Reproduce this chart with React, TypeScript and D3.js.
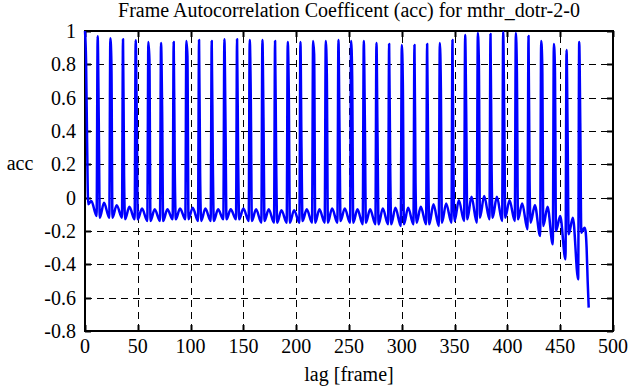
import React, { useEffect, useRef } from 'react';
import * as d3 from 'd3';

// lag positions of the periodic peaks (one every ~12 frames)
const spikeLags = [
  0, 12, 24, 36, 48, 60, 72, 84, 96, 108, 120, 132, 144, 156, 168, 180, 192, 204, 216, 228,
  240, 252, 264, 276, 288, 300, 312, 324, 336, 348, 360, 372, 384, 396, 408, 420, 432, 444, 456, 468,
];

// acc value at each peak
const peakValues = [
  1.0, 0.968, 0.956, 0.95, 0.944, 0.934, 0.928, 0.934, 0.94, 0.946, 0.94, 0.95, 0.95, 0.946, 0.946, 0.94, 0.934, 0.934, 0.94, 0.94,
  0.946, 0.94, 0.94, 0.928, 0.922, 0.916, 0.916, 0.922, 0.928, 0.946, 0.976, 0.988, 0.982, 0.994, 0.988, 0.97, 0.94, 0.922, 0.886, 0.934,
];

// value one lag after each peak (the shoulder of the spike)
const shoulderValues = [
  0.82, 0.48, 0.81, 0.13, 0.49, 0.83, 0.55, 0.17, 0.85, 0.15, 0.24, 0.47, 0.24, 0.6, 0.48, 0.24, 0.62, 0.3, 0.86, 0.74,
  0.41, 0.73, 0.47, 0.37, 0.19, 0.68, 0.09, 0.2, 0.66, 0.1, 0.5, 0.8, 0.2, 0.5, 0.75, 0.1, 0.8, 0.78, 0.4, 0.45,
];

// dip just before each peak
const preDipValues = [
  0, -0.11, -0.12, -0.12, -0.13, -0.14, -0.14, -0.13, -0.13, -0.14, -0.14, -0.13, -0.13, -0.14, -0.15, -0.15, -0.15, -0.15, -0.15, -0.15,
  -0.15, -0.15, -0.16, -0.16, -0.16, -0.17, -0.16, -0.16, -0.17, -0.15, -0.14, -0.15, -0.13, -0.14, -0.14, -0.19, -0.23, -0.28, -0.37, -0.49,
];

// dip two lags after each peak
const postDipValues = [
  -0.04, -0.12, -0.12, -0.13, -0.13, -0.14, -0.14, -0.13, -0.13, -0.14, -0.14, -0.13, -0.13, -0.14, -0.14, -0.15, -0.15, -0.14, -0.15, -0.15,
  -0.14, -0.15, -0.15, -0.16, -0.16, -0.16, -0.15, -0.16, -0.15, -0.14, -0.13, -0.12, -0.12, -0.12, -0.13, -0.15, -0.17, -0.2, -0.22,
];

// top of the baseline arc in the middle of each period
const midTopValues = [
  -0.02, -0.03, -0.045, -0.055, -0.065, -0.07, -0.07, -0.065, -0.06, -0.065, -0.07, -0.07, -0.065, -0.07, -0.07, -0.075, -0.075, -0.07, -0.07, -0.065,
  -0.065, -0.07, -0.07, -0.065, -0.06, -0.06, -0.055, -0.04, -0.035, -0.015, 0.005, 0.01, 0.005, -0.015, -0.035, -0.045, -0.055, -0.11, -0.12,
];

// first lags and the final drop
const headLags = [0, 1, 2, 3];
const headValues = [1.0, 0.82, 0.33, -0.04];
const tailLags = [469, 470, 471, 472, 473, 474, 475, 476, 477];
const tailValues = [0.45, -0.21, -0.2, -0.19, -0.18, -0.2, -0.3, -0.5, -0.66];

const xTicks = [0, 50, 100, 150, 200, 250, 300, 350, 400, 450, 500];
const yTicks = [-0.8, -0.6, -0.4, -0.2, 0, 0.2, 0.4, 0.6, 0.8, 1];

const WIDTH = 641;
const HEIGHT = 387;
const FONT = '"Liberation Serif", "Times New Roman", serif';

const App: React.FC = () => {
  const svgRef = useRef<SVGSVGElement>(null);

  useEffect(() => {
    if (!svgRef.current) return;
    const svg = d3.select(svgRef.current);
    svg.selectAll('*').remove();

    const left = 85;
    const right = 613;
    const top = 31;
    const bottom = 331;

    const x = d3.scaleLinear().domain([0, 500]).range([left, right]);
    const y = d3.scaleLinear().domain([-0.8, 1]).range([bottom, top]);

    // build the series
    const points: [number, number][] = [];
    headLags.forEach((l, i) => points.push([l, headValues[i]]));
    spikeLags.forEach((p, k) => {
      if (k > 0) {
        points.push([p - 1, preDipValues[k]]);
        points.push([p, peakValues[k]]);
        if (k < spikeLags.length - 1) {
          points.push([p + 1, shoulderValues[k]]);
          points.push([p + 2, postDipValues[k]]);
        }
      }
      if (k < midTopValues.length) points.push([p + 6, midTopValues[k]]);
    });
    tailLags.forEach((l, i) => points.push([l, tailValues[i]]));

    svg.append('rect').attr('width', WIDTH).attr('height', HEIGHT).attr('fill', '#ffffff');

    // grid
    const grid = svg.append('g').attr('stroke', '#000').attr('stroke-width', 1).attr('stroke-dasharray', '7,5');
    grid.selectAll('.vg')
      .data(xTicks.slice(1, -1))
      .enter()
      .append('line')
      .attr('x1', d => Math.round(x(d)) + 0.5)
      .attr('x2', d => Math.round(x(d)) + 0.5)
      .attr('y1', bottom)
      .attr('y2', top);
    grid.selectAll('.hg')
      .data(yTicks.slice(1, -1))
      .enter()
      .append('line')
      .attr('x1', left)
      .attr('x2', right)
      .attr('y1', d => Math.round(y(d)) + 0.5)
      .attr('y2', d => Math.round(y(d)) + 0.5);

    // border
    svg.append('rect')
      .attr('x', left)
      .attr('y', top)
      .attr('width', right - left)
      .attr('height', bottom - top)
      .attr('fill', 'none')
      .attr('stroke', '#000')
      .attr('stroke-width', 2);

    // inward ticks on all four sides
    const tickLen = 6;
    const ticks = svg.append('g').attr('stroke', '#000').attr('stroke-width', 2);
    xTicks.forEach(t => {
      const px = Math.round(x(t)) + 0.5;
      ticks.append('line').attr('x1', px).attr('x2', px).attr('y1', bottom).attr('y2', bottom - tickLen);
      ticks.append('line').attr('x1', px).attr('x2', px).attr('y1', top).attr('y2', top + tickLen);
    });
    yTicks.forEach(t => {
      const py = Math.round(y(t)) + 0.5;
      ticks.append('line').attr('x1', left).attr('x2', left + tickLen).attr('y1', py).attr('y2', py);
      ticks.append('line').attr('x1', right).attr('x2', right - tickLen).attr('y1', py).attr('y2', py);
    });

    // tick labels
    svg.selectAll('.xl')
      .data(xTicks)
      .enter()
      .append('text')
      .attr('x', d => x(d))
      .attr('y', 353)
      .attr('text-anchor', 'middle')
      .attr('font-family', FONT)
      .attr('font-size', '20px')
      .text(d => String(d));
    svg.selectAll('.yl')
      .data(yTicks)
      .enter()
      .append('text')
      .attr('x', 76)
      .attr('y', d => y(d) + 7)
      .attr('text-anchor', 'end')
      .attr('font-family', FONT)
      .attr('font-size', '20px')
      .text(d => String(d));

    // data line
    const line = d3.line<[number, number]>()
      .x(d => x(d[0]))
      .y(d => y(d[1]))
      .curve(d3.curveMonotoneX);
    svg.append('path')
      .datum(points)
      .attr('d', line)
      .attr('fill', 'none')
      .attr('stroke', '#0000ff')
      .attr('stroke-width', 2.5)
      .attr('stroke-linejoin', 'round');

    // titles
    svg.append('text')
      .attr('x', (left + right) / 2)
      .attr('y', 17)
      .attr('text-anchor', 'middle')
      .attr('font-family', FONT)
      .attr('font-size', '20px')
      .text('Frame Autocorrelation Coefficent (acc) for mthr_dotr-2-0');
    svg.append('text')
      .attr('x', (left + right) / 2)
      .attr('y', 381)
      .attr('text-anchor', 'middle')
      .attr('font-family', FONT)
      .attr('font-size', '20px')
      .text('lag [frame]');
    svg.append('text')
      .attr('x', 20)
      .attr('y', 170)
      .attr('text-anchor', 'middle')
      .attr('font-family', FONT)
      .attr('font-size', '20px')
      .text('acc');
  }, []);

  return (
    <div style={{ position: 'absolute', left: 0, top: 0 }}>
      <svg ref={svgRef} width={WIDTH} height={HEIGHT} style={{ display: 'block' }}></svg>
    </div>
  );
};

export default App;
